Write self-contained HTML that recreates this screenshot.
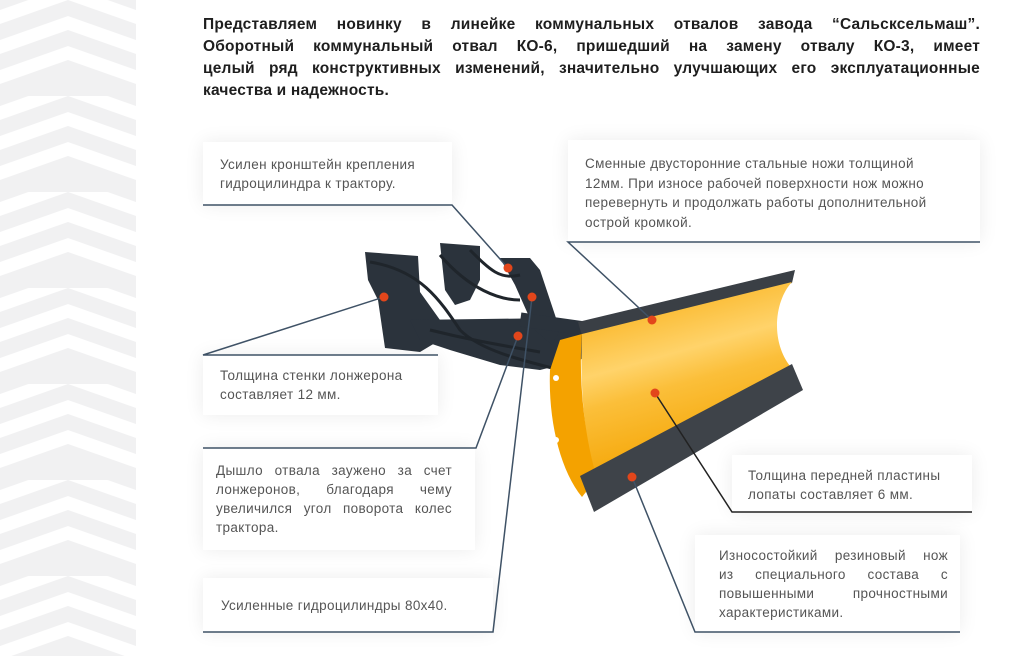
<!DOCTYPE html>
<html><head><meta charset="utf-8">
<style>
html,body{margin:0;padding:0;}
body{width:1024px;height:656px;position:relative;overflow:hidden;background:#fff;font-family:"Liberation Sans","DejaVu Sans",sans-serif;}
.h{position:absolute;left:203px;width:777px;font-size:15.5px;font-weight:bold;color:#1e1e1e;letter-spacing:0.2px;white-space:nowrap;}
.j{text-align:justify;text-align-last:justify;}
.box{position:absolute;background:#fff;box-shadow:0 0 18px rgba(0,0,0,0.08);}
.t{position:absolute;font-size:13.5px;color:#555;letter-spacing:0.35px;white-space:nowrap;line-height:19px;}
.tj{text-align:justify;text-align-last:justify;}
</style></head><body>
<svg width="140" height="656" style="position:absolute;left:0;top:0" xmlns="http://www.w3.org/2000/svg">
<defs><pattern id="p" width="136" height="96" patternUnits="userSpaceOnUse">
<rect width="136" height="96" fill="#f1f1f2"/>
<path d="M0 10 L68 -14 L136 10 L136 24 L68 0 L0 24Z M0 40 L68 16 L136 40 L136 54 L68 30 L0 54Z M0 70 L68 46 L136 70 L136 84 L68 60 L0 84Z" fill="#fff"/>
</pattern></defs>
<rect width="136" height="656" fill="url(#p)"/>
</svg>

<div class="h j" style="top:16px">Представляем новинку в линейке коммунальных отвалов завода “Сальсксельмаш”.</div>
<div class="h j" style="top:38px">Оборотный коммунальный отвал КО-6, пришедший на замену отвалу КО-3, имеет</div>
<div class="h j" style="top:60px">целый ряд конструктивных изменений, значительно улучшающих его эксплуатационные</div>
<div class="h" style="top:82px">качества и надежность.</div>

<div class="box" style="left:203px;top:142px;width:249px;height:63px"></div>
<div class="box" style="left:568px;top:140px;width:412px;height:102px"></div>
<div class="box" style="left:203px;top:355px;width:235px;height:60px"></div>
<div class="box" style="left:203px;top:448px;width:272px;height:102px"></div>
<div class="box" style="left:203px;top:578px;width:290px;height:54px"></div>
<div class="box" style="left:732px;top:455px;width:240px;height:57px"></div>
<div class="box" style="left:695px;top:535px;width:265px;height:97px"></div>

<svg width="1024" height="656" style="position:absolute;left:0;top:0" xmlns="http://www.w3.org/2000/svg">
<defs>
<linearGradient id="y" x1="0" y1="0" x2="0.3" y2="1">
<stop offset="0" stop-color="#f6a500"/><stop offset="0.45" stop-color="#ffd36a"/><stop offset="0.6" stop-color="#fbbf3a"/><stop offset="1" stop-color="#f4a300"/>
</linearGradient>
</defs>
<!-- frame -->
<g fill="#2b333c">
<path d="M365 252 L418 256 L420 292 L440 320 L440 340 L420 352 L385 348 L378 300 L368 280Z"/>
<path d="M440 243 L480 246 L480 280 L470 300 L455 305 L445 290Z"/>
<path d="M410 320 L560 318 L590 330 L600 345 L580 360 L540 370 L500 365 L450 350 L420 340Z"/>
<path d="M500 258 L530 258 L540 270 L560 330 L552 345 L535 330 L515 285Z"/>
<rect x="520" y="318" width="80" height="14" transform="rotate(8 560 325)"/>
</g>
<g fill="none" stroke="#1f252b" stroke-width="3">
<path d="M370 262 C420 270 440 300 460 330 C480 350 520 360 560 370"/>
<path d="M440 255 C470 290 500 300 520 300"/>
<path d="M470 250 C490 270 500 280 520 275"/>
<path d="M430 330 C470 340 500 345 540 352"/>
</g>
<!-- steel top knife -->
<path d="M578 322 L795 270 L792 283 L582 336Z" fill="#3a3f45"/>
<!-- blade -->
<path d="M582 334 L792 282 C775 300 770 340 790 366 L595 480 C583 430 580 380 582 334Z" fill="url(#y)"/>
<!-- side plate -->
<path d="M560 340 L582 334 C578 380 585 440 597 478 L582 497 C560 470 548 420 550 370Z" fill="#f4a200"/>
<circle cx="556" cy="378" r="3" fill="#fff"/><circle cx="556" cy="440" r="3" fill="#fff"/>
<!-- rubber knife -->
<path d="M580 476 L792 364 L803 390 L594 512Z" fill="#3e4349"/>
<!-- connectors -->
<g stroke="#3f5266" stroke-width="1.5" fill="none">
<path d="M203 205 L452 205 L508 268"/>
<path d="M980 242 L568 242 L652 320"/>
<path d="M438 355 L203 355 L384 297"/>
<path d="M203 448 L476 448 L518 336"/>
<path d="M203 632 L493 632 L532 297"/>
<path d="M972 512 L732 512 L655 393" stroke="#222"/>
<path d="M960 632 L695 632 L632 477"/>
</g>
<g fill="#e2461b">
<circle cx="508" cy="268" r="4.5"/><circle cx="532" cy="297" r="4.5"/><circle cx="384" cy="297" r="4.5"/>
<circle cx="518" cy="336" r="4.5"/><circle cx="652" cy="320" r="4.5"/><circle cx="655" cy="393" r="4.5"/><circle cx="632" cy="477" r="4.5"/>
</g>
</svg>

<div class="t" style="left:220px;top:155px">Усилен кронштейн крепления<br>гидроцилиндра к трактору.</div>
<div class="t" style="left:585px;top:154px;line-height:19.5px">Сменные двусторонние стальные ножи толщиной<br>12мм. При износе рабочей поверхности нож можно<br>перевернуть и продолжать работы дополнительной<br>острой кромкой.</div>
<div class="t" style="left:220px;top:366px">Толщина стенки лонжерона<br>составляет 12 мм.</div>
<div class="t" style="left:216px;top:461px;width:236px"><div class="tj">Дышло отвала заужено за счет</div><div class="tj">лонжеронов, благодаря чему</div><div class="tj">увеличился угол поворота колес</div><div>трактора.</div></div>
<div class="t" style="left:221px;top:596px">Усиленные гидроцилиндры 80х40.</div>
<div class="t" style="left:748px;top:466px">Толщина передней пластины<br>лопаты составляет 6 мм.</div>
<div class="t" style="left:719px;top:546px;width:229px"><div class="tj">Износостойкий резиновый нож</div><div class="tj">из специального состава с</div><div class="tj">повышенными прочностными</div><div>характеристиками.</div></div>
</body></html>
